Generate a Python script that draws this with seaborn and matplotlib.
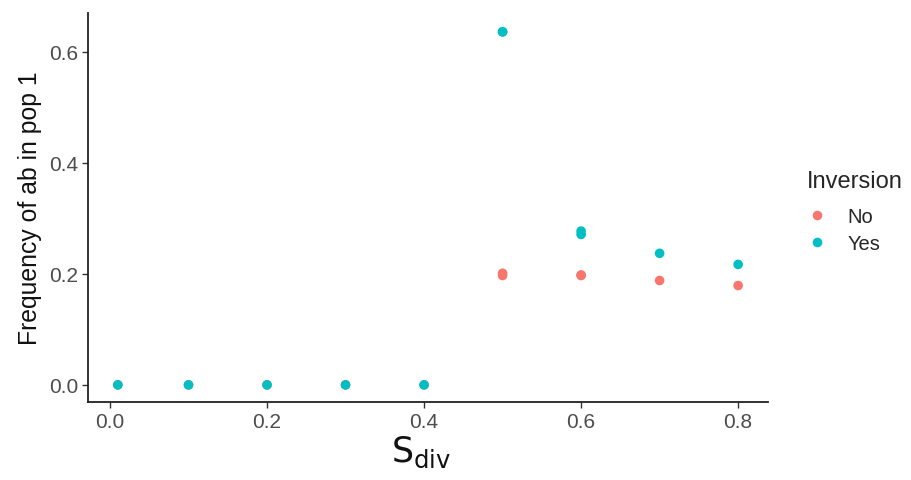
import matplotlib
matplotlib.use("Agg")
import matplotlib.pyplot as plt
import seaborn as sns
import pandas as pd

s_div = [0.01, 0.1, 0.2, 0.3, 0.4, 0.5, 0.5, 0.6, 0.6, 0.7, 0.8]
freq_no = [0.0, 0.0, 0.0, 0.0, 0.0, 0.197, 0.201, 0.197, 0.198, 0.188, 0.179]
freq_yes = [0.0, 0.0, 0.0, 0.0, 0.0, 0.636, 0.636, 0.271, 0.277, 0.237, 0.217]
groups = ["No", "Yes"]
colors = ["#F8766D", "#00BFC4"]

df = pd.DataFrame({
    "S": s_div + s_div,
    "Freq": freq_no + freq_yes,
    "Inversion": [groups[0]] * len(s_div) + [groups[1]] * len(s_div),
})

sns.set_style("ticks")
plt.rcParams['font.family'] = ['Liberation Sans', 'DejaVu Sans']

fig = plt.figure(figsize=(9.11, 4.81), dpi=100)
ax = fig.add_axes([0.0966, 0.162, 0.7464, 0.809])
sns.scatterplot(data=df, x="S", y="Freq", hue="Inversion", palette=colors,
                hue_order=groups, s=48, edgecolor="none", ax=ax, legend=True)

ax.set_xlim(-0.028, 0.838)
ax.set_ylim(-0.031, 0.670)
ax.set_xticks([0.0, 0.2, 0.4, 0.6, 0.8])
ax.set_xticklabels(["0.0", "0.2", "0.4", "0.6", "0.8"])
ax.set_yticks([0.0, 0.2, 0.4, 0.6])
ax.set_yticklabels(["0.0", "0.2", "0.4", "0.6"])
ax.tick_params(axis="both", labelsize=15, colors="#333333", length=4, width=1, pad=3)
ax.tick_params(labelcolor="#4d4d4d")
for sp in ["left", "bottom"]:
    ax.spines[sp].set_linewidth(1.3)
    ax.spines[sp].set_color("#222222")
for sp in ["top", "right"]:
    ax.spines[sp].set_visible(False)

ax.set_ylabel("Frequency of ab in pop 1", fontsize=17.8, color="#111111", labelpad=5)
ax.set_xlabel(r"S$_{\mathregular{div}}$", fontsize=25, color="#111111", labelpad=2,
              family="DejaVu Sans")
ax.xaxis.label.set_x(0.49)

leg = ax.legend(title="Inversion", loc="upper left", bbox_to_anchor=(1.043, 0.623),
                frameon=False, fontsize=14.5, title_fontsize=17, borderpad=0,
                markerscale=1.0, handlelength=1.0, handletextpad=1.0,
                labelspacing=0.4)
leg._legend_box.align = "left"
leg._legend_box.sep = 11

fig.savefig("out.png", dpi=100)
